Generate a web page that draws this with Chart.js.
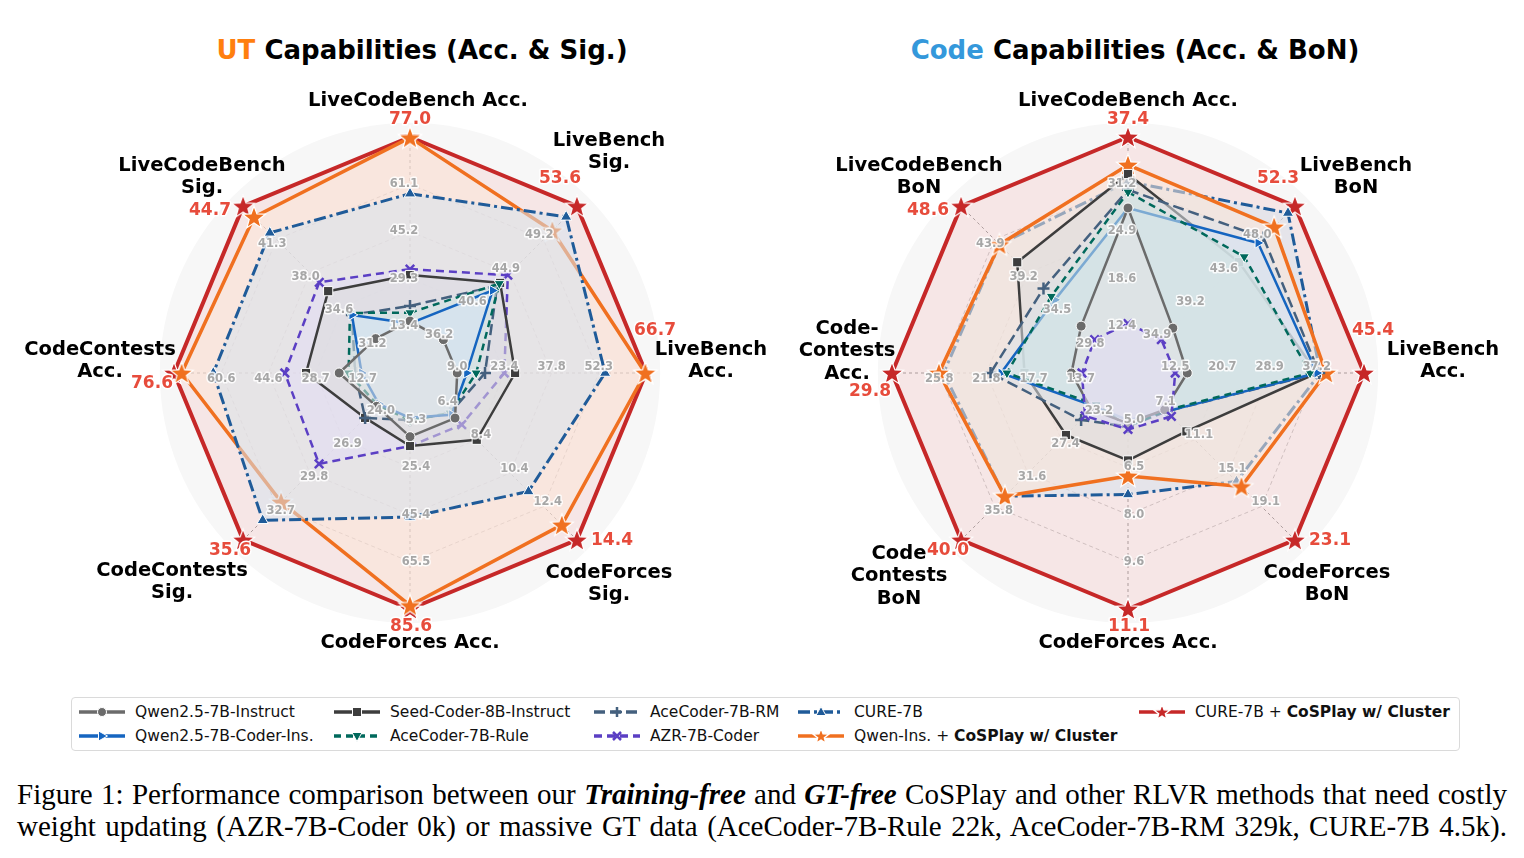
<!DOCTYPE html>
<html>
<head>
<meta charset="utf-8">
<script src="https://cdn.jsdelivr.net/npm/chart.js@4.4.1/dist/chart.umd.min.js"></script>
<style>
  body { margin: 0; background: #fff; width: 1524px; height: 858px; position: relative; overflow: hidden; font-family: "DejaVu Sans", sans-serif; }
  canvas { position: absolute; top: 0; }
  .title { position: absolute; top: 34px; font-weight: bold; font-size: 26px; line-height: 32px; white-space: nowrap; transform: translateX(-50%); }
  #legend { position: absolute; left: 71px; top: 697px; width: 1387px; height: 52px; border: 1px solid #dadada; border-radius: 4px; background: #fff; }
  .item { position: absolute; display: flex; align-items: center; height: 20px; font-size: 15.5px; white-space: nowrap; color: #111; }
  .item svg { margin-right: 9px; }
  .caption { position: absolute; left: 17px; width: 1490px; font-family: "Liberation Serif", serif; font-size: 29px; line-height: 32px; text-align: justify; text-align-last: justify; white-space: nowrap; color: #000; }
</style>
</head>
<body>
<div class="title" style="left:422px"><span style="color:#ff7f0e">UT</span> Capabilities (Acc. &amp; Sig.)</div>
<div class="title" style="left:1135px"><span style="color:#3498db">Code</span> Capabilities (Acc. &amp; BoN)</div>
<canvas id="utChart" width="820" height="746" style="left:0px"></canvas>
<canvas id="codeChart" width="792" height="746" style="left:732px"></canvas>
<div id="legend"></div>
<div class="caption" style="top:778px">Figure 1: Performance comparison between our <b><i>Training-free</i></b> and <b><i>GT-free</i></b> CoSPlay and other RLVR methods that need costly</div>
<div class="caption" style="top:810px">weight updating (AZR-7B-Coder 0k) or massive GT data (AceCoder-7B-Rule 22k, AceCoder-7B-RM 329k, CURE-7B 4.5k).</div>

<script>
// ---- data ----
const seriesNames = ['Qwen2.5-7B-Instruct', 'Qwen2.5-7B-Coder-Ins.', 'Seed-Coder-8B-Instruct', 'AceCoder-7B-Rule',
  'AceCoder-7B-RM', 'AZR-7B-Coder', 'CURE-7B', 'Qwen-Ins. + CoSPlay w/ Cluster', 'CURE-7B + CoSPlay w/ Cluster'];

// UT capabilities (Acc. & Sig.)
const utAxes = ['LiveCodeBench Acc.', 'LiveBench\nSig.', 'LiveBench\nAcc.', 'CodeForces\nSig.',
  'CodeForces Acc.', 'CodeContests\nSig.', 'CodeContests\nAcc.', 'LiveCodeBench\nSig.'];
const utTicks = [['13.4', '29.3', '45.2', '61.1'], ['36.2', '40.6', '44.9', '49.2'], ['9.0', '23.4', '37.8', '52.3'],
  ['6.4', '8.4', '10.4', '12.4'], ['5.3', '25.4', '45.4', '65.5'], ['24.0', '26.9', '29.8', '32.7'],
  ['12.7', '28.7', '44.6', '60.6'], ['31.2', '34.6', '38.0', '41.3']];
const utQwenInstruct = [15.0, 36.2, 9.0, 7.1, 12.3, 24.0, 20.7, 31.3];
const utQwenCoder    = [14.2, 42.6, 11.9, 6.9, 4.3, 23.8, 13.1, 33.7];
const utSeedCoder    = [30.5, 43.6, 26.7, 8.4, 16.3, 25.0, 31.9, 36.1];
const utAceRule      = [17.8, 43.5, 14.8, 6.8, 5.3, 23.9, 17.5, 33.9];
const utAceRM        = [20.1, 43.2, 17.5, 6.8, 5.3, 25.0, 15.3, 33.7];
const utAZR          = [32.5, 44.6, 23.4, 7.5, 16.3, 29.0, 39.1, 37.0];
const utCure         = [57.9, 52.2, 54.2, 11.5, 46.5, 33.9, 63.3, 42.0];
const utQwenCosplay  = [76.8, 50.4, 66.5, 13.5, 84.1, 32.3, 74.0, 43.6];
const utCureCosplay  = [77.0, 53.6, 66.7, 14.4, 85.6, 35.6, 76.6, 44.7];

// Code capabilities (Acc. & BoN)
const codeAxes = ['LiveCodeBench Acc.', 'LiveBench\nBoN', 'LiveBench\nAcc.', 'CodeForces\nBoN',
  'CodeForces Acc.', 'Code\nContests\nBoN', 'Code-\nContests\nAcc.', 'LiveCodeBench\nBoN'];
const codeTicks = [['12.4', '18.6', '24.9', '31.2'], ['34.9', '39.2', '43.6', '48.0'], ['12.5', '20.7', '28.9', '37.2'],
  ['7.1', '11.1', '15.1', '19.1'], ['5.0', '6.5', '8.0', '9.6'], ['23.2', '27.4', '31.6', '35.8'],
  ['13.7', '17.7', '21.8', '25.8'], ['29.8', '34.5', '39.2', '43.9']];
const codeQwenInstruct = [28.0, 36.4, 14.6, 7.5, 5.1, 23.6, 14.5, 31.7];
const codeQwenCoder    = [28.0, 47.5, 37.2, 7.7, 5.0, 23.2, 20.5, 35.4];
const codeSeedCoder    = [32.5, 45.0, 37.2, 10.1, 6.3, 26.8, 18.5, 40.7];
const codeAceRule      = [30.1, 45.7, 36.0, 7.6, 5.2, 23.0, 20.0, 35.9];
const codeAceRM        = [30.4, 48.2, 37.6, 7.7, 5.2, 24.9, 21.4, 37.0];
const codeAZR          = [12.7, 34.9, 12.5, 8.3, 5.3, 24.4, 13.6, 29.8];
const codeCure         = [31.5, 51.4, 37.8, 16.1, 7.4, 34.5, 25.4, 43.2];
const codeQwenCosplay  = [33.7, 49.6, 38.8, 16.7, 6.8, 34.5, 25.8, 43.2];
const codeCureCosplay  = [37.4, 52.3, 45.4, 23.1, 11.1, 40.0, 29.8, 48.6];

// ---- styles ----
const styles = [
  { color: '#6b6b6b', width: 2.5, dash: [], point: 'circle', r: 5 },
  { color: '#1565c0', width: 2.5, dash: [], point: 'triangle', rot: 90, r: 6 },
  { color: '#3d3d3d', width: 2.5, dash: [], point: 'rect', r: 6.5 },
  { color: '#00695c', width: 2.5, dash: [7, 5], point: 'triangle', rot: 180, r: 6 },
  { color: '#44607e', width: 2.5, dash: [11, 5], point: 'cross', r: 6 },
  { color: '#5b3fc4', width: 2.5, dash: [8, 5], point: 'crossRot', r: 6 },
  { color: '#1f5b99', width: 3, dash: [12, 4, 3, 4], point: 'triangle', r: 6.5 },
  { color: '#f07020', width: 3.5, dash: [], point: 'star', r: 12 },
  { color: '#c62828', width: 4, dash: [], point: 'star', r: 12 }
];

// label placement, px from the chart centre
const utLabelPos = [[8, -272], [199, -221], [301, -12], [199, 211], [0, 270], [-238, 209], [-310, -12], [-208, -196]];
const codeLabelPos = [[0, -272], [228, -196], [315, -12], [199, 211], [0, 270], [-229, 203], [-281, -22], [-209, -196]];
const utValuePos = [[0, -253], [150, -194], [245, -42], [202, 168], [1, 254], [-180, 178], [-258, 11], [-200, -162]];
const codeValuePos = [[0, -253], [150, -194], [245, -42], [202, 168], [1, 254], [-180, 178], [-258, 19], [-200, -162]];

function tint(hex, mix, alpha) {
  const n = parseInt(hex.slice(1), 16);
  const c = [(n >> 16) & 255, (n >> 8) & 255, n & 255].map(v => Math.round(v + (255 - v) * mix));
  return `rgba(${c[0]},${c[1]},${c[2]},${alpha})`;
}

function starImage(color, r) {
  const s = Math.ceil(r * 2 + 4);
  const c = document.createElement('canvas');
  c.width = c.height = s;
  const g = c.getContext('2d');
  g.translate(s / 2, s / 2 + r * 0.08);
  g.beginPath();
  for (let k = 0; k < 10; k++) {
    const rr = k % 2 ? r * 0.42 : r;
    const a = -Math.PI / 2 + k * Math.PI / 5;
    g.lineTo(rr * Math.cos(a), rr * Math.sin(a));
  }
  g.closePath();
  g.fillStyle = color;
  g.fill();
  g.strokeStyle = '#fff';
  g.lineWidth = 1.2;
  g.stroke();
  return c;
}

// per axis: tick i sits at (i+1)/5 of the radius, the best score sits on the rim
function axisRange(ticks, best) {
  return ticks.map((t, i) => {
    const step = (best[i] - parseFloat(t[0])) / 4;
    return { lo: best[i] - 5 * step, hi: best[i] };
  });
}

function polyArea(vals) {
  let a = 0;
  for (let i = 0; i < vals.length; i++) a += vals[i] * vals[(i + 1) % vals.length];
  return a * 0.5 * Math.sin(2 * Math.PI / vals.length);
}

function buildDatasets(seriesVals, ranges) {
  return seriesVals.map((vals, k) => {
    const st = styles[k];
    const data = vals.map((v, i) => (v - ranges[i].lo) / (ranges[i].hi - ranges[i].lo));
    const line = st.point === 'cross' || st.point === 'crossRot';
    return {
      label: seriesNames[k],
      data: data,
      borderColor: st.color,
      borderWidth: st.width,
      borderDash: st.dash,
      borderJoinStyle: 'round',
      fill: true,
      backgroundColor: tint(st.color, 0.82, 0.55),
      pointStyle: st.point === 'star' ? starImage(st.color, st.r) : st.point,
      pointRadius: st.r,
      pointRotation: st.rot || 0,
      pointBackgroundColor: st.color,
      pointBorderColor: line ? st.color : '#ffffff',
      pointBorderWidth: line ? 2.5 : 1,
      clip: false,
      order: polyArea(data)   // big polygons go underneath
    };
  });
}

const radarDecor = {
  id: 'radarDecor',
  beforeDraw(chart) {
    const s = chart.scales.r, ctx = chart.ctx;
    ctx.save();
    ctx.beginPath();
    ctx.arc(s.xCenter, s.yCenter, s.drawingArea * 1.06, 0, Math.PI * 2);
    ctx.fillStyle = '#f7f7f7';
    ctx.fill();
    ctx.restore();
  },
  afterDatasetsDraw(chart, args, opts) {
    const s = chart.scales.r, ctx = chart.ctx;
    ctx.save();
    ctx.font = 'bold 11.5px "DejaVu Sans"';
    ctx.textAlign = 'center';
    ctx.textBaseline = 'middle';
    ctx.lineJoin = 'round';
    opts.ticks.forEach((tl, i) => {
      const ang = s.getIndexAngle(i) - Math.PI / 2;
      const px = Math.sin(ang), py = -Math.cos(ang);
      tl.forEach((t, k) => {
        const p = s.getPointPosition(i, s.getDistanceFromCenterForValue((k + 1) / 5));
        const x = p.x + px * 6, y = p.y + py * 6;
        ctx.lineWidth = 3;
        ctx.strokeStyle = 'rgba(255,255,255,0.85)';
        ctx.strokeText(t, x, y);
        ctx.fillStyle = '#a6a6a6';
        ctx.fillText(t, x, y);
      });
    });
    ctx.restore();
  },
  afterDraw(chart, args, opts) {
    const s = chart.scales.r, ctx = chart.ctx;
    const k = s.drawingArea / 236;
    ctx.save();
    ctx.textAlign = 'center';
    ctx.textBaseline = 'middle';
    ctx.font = 'bold 19.5px "DejaVu Sans"';
    ctx.fillStyle = '#000';
    chart.data.labels.forEach((lab, i) => {
      const lines = lab.split('\n');
      const cx = s.xCenter + opts.labelPos[i][0] * k;
      const cy = s.yCenter + opts.labelPos[i][1] * k;
      lines.forEach((ln, j) => ctx.fillText(ln, cx, cy + (j - (lines.length - 1) / 2) * 22.5));
    });
    ctx.font = 'bold 17px "DejaVu Sans"';
    ctx.lineJoin = 'round';
    opts.best.forEach((v, i) => {
      const x = s.xCenter + opts.valuePos[i][0] * k, y = s.yCenter + opts.valuePos[i][1] * k;
      ctx.lineWidth = 3;
      ctx.strokeStyle = '#fff';
      ctx.strokeText(v.toFixed(1), x, y);
      ctx.fillStyle = '#e74c3c';
      ctx.fillText(v.toFixed(1), x, y);
    });
    ctx.restore();
  }
};

function makeRadar(id, axes, ticks, seriesVals, labelPos, valuePos, pad) {
  const best = seriesVals[seriesVals.length - 1];
  const ranges = axisRange(ticks, best);
  return new Chart(document.getElementById(id), {
    type: 'radar',
    data: { labels: axes, datasets: buildDatasets(seriesVals, ranges) },
    options: {
      responsive: false,
      devicePixelRatio: 1,
      animation: false,
      events: [],
      layout: { padding: pad },
      elements: { line: { tension: 0 } },
      plugins: {
        legend: { display: false },
        tooltip: { enabled: false },
        radarDecor: { ticks: ticks, labelPos: labelPos, valuePos: valuePos, best: best }
      },
      scales: {
        r: {
          min: 0,
          max: 1,
          afterBuildTicks: sc => { sc.ticks = [0, 0.2, 0.4, 0.6, 0.8].map(v => ({ value: v })); },
          ticks: { display: false },
          pointLabels: { display: false },
          grid: { color: '#a0a0a0', lineWidth: 1 },
          border: { dash: [4, 3] },
          angleLines: { color: '#555', lineWidth: 1, borderDash: [3, 3] }
        }
      }
    },
    plugins: [radarDecor]
  });
}

makeRadar('utChart', utAxes, utTicks,
  [utQwenInstruct, utQwenCoder, utSeedCoder, utAceRule, utAceRM, utAZR, utCure, utQwenCosplay, utCureCosplay],
  utLabelPos, utValuePos, { left: 174, right: 174, top: 137, bottom: 137 });
makeRadar('codeChart', codeAxes, codeTicks,
  [codeQwenInstruct, codeQwenCoder, codeSeedCoder, codeAceRule, codeAceRM, codeAZR, codeCure, codeQwenCosplay, codeCureCosplay],
  codeLabelPos, codeValuePos, { left: 160, right: 160, top: 137, bottom: 137 });

// ---- legend (5 columns, filled column by column) ----
function markerSvg(st, cx, cy) {
  const c = st.color;
  switch (st.point) {
    case 'circle': return `<circle cx="${cx}" cy="${cy}" r="4.5" fill="${c}" stroke="#fff" stroke-width="1"/>`;
    case 'rect': return `<rect x="${cx - 4.5}" y="${cy - 4.5}" width="9" height="9" fill="${c}" stroke="#fff" stroke-width="1"/>`;
    case 'cross': return `<path d="M${cx - 5} ${cy}H${cx + 5}M${cx} ${cy - 5}V${cy + 5}" stroke="${c}" stroke-width="2.5"/>`;
    case 'crossRot': return `<path d="M${cx - 4} ${cy - 4}L${cx + 4} ${cy + 4}M${cx + 4} ${cy - 4}L${cx - 4} ${cy + 4}" stroke="${c}" stroke-width="2.5"/>`;
    case 'triangle': {
      const rot = st.rot || 0;
      return `<polygon points="${cx},${cy - 5.5} ${cx + 5},${cy + 3.5} ${cx - 5},${cy + 3.5}" fill="${c}" stroke="#fff" stroke-width="1" transform="rotate(${rot} ${cx} ${cy})"/>`;
    }
    case 'star': {
      const pts = [];
      for (let k = 0; k < 10; k++) {
        const rr = k % 2 ? 3.6 : 8.5, a = -Math.PI / 2 + k * Math.PI / 5;
        pts.push((cx + rr * Math.cos(a)).toFixed(1) + ',' + (cy + 0.6 + rr * Math.sin(a)).toFixed(1));
      }
      return `<polygon points="${pts.join(' ')}" fill="${c}" stroke="#fff" stroke-width="1.5"/>`;
    }
  }
  return '';
}

const legendCols = [78, 333, 593, 797, 1138];
const legend = document.getElementById('legend');
seriesNames.forEach((name, k) => {
  const st = styles[k];
  const col = Math.floor(k / 2), row = k % 2;
  const div = document.createElement('div');
  div.className = 'item';
  div.style.left = (legendCols[col] - 72) + 'px';
  div.style.top = (4 + row * 24) + 'px';
  const svg = `<svg width="48" height="20" viewBox="0 0 48 20">` +
    `<line x1="1" y1="10" x2="47" y2="10" stroke="${st.color}" stroke-width="3.5" stroke-dasharray="${st.dash.join(' ') || 'none'}"/>` +
    markerSvg(st, 24, 10) + `</svg>`;
  div.innerHTML = svg + '<span>' + name.replace('CoSPlay w/ Cluster', '<b>CoSPlay w/ Cluster</b>') + '</span>';
  legend.appendChild(div);
});
</script>
</body>
</html>
